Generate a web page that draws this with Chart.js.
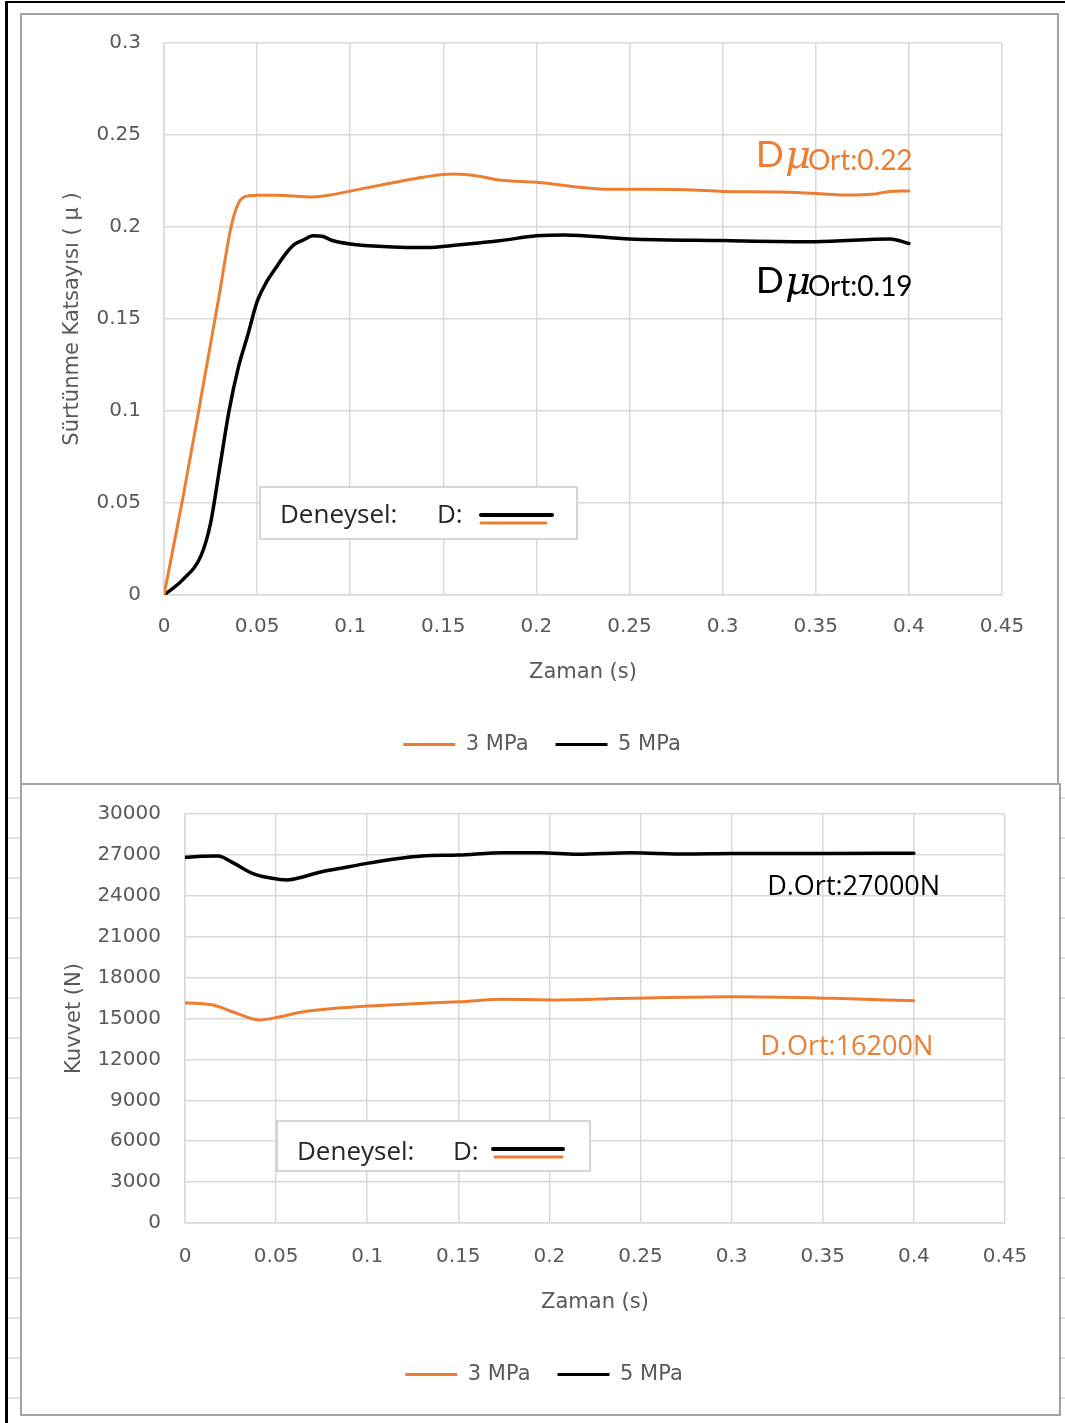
<!DOCTYPE html>
<html>
<head>
<meta charset="utf-8">
<title>Sürtünme Katsayısı ve Kuvvet – Zaman</title>
<script src="https://cdn.jsdelivr.net/npm/chart.js@4/dist/chart.umd.min.js"></script>
<style>
  html, body { margin: 0; padding: 0; background: #fff; }
  body { width: 1065px; height: 1423px; position: relative; overflow: hidden; }
  canvas { position: absolute; }
  #c1 { left: 21px; top: 14px; }
  #c2 { left: 21px; top: 784px; }
  .panel { position: absolute; box-sizing: border-box; border: 2px solid #a3a3a3; pointer-events: none; }
  #p1 { left: 20px; top: 13px; width: 1039px; height: 772px; }
  #p2 { left: 20px; top: 783px; width: 1041px; height: 633px; }
  #edgeTop { position: absolute; left: 5px; top: 1px; width: 1060px; height: 2px; background: #000; }
  #edgeLeft { position: absolute; left: 5px; top: 1px; width: 3px; height: 1422px; background: #000; }
  /* faint sheet rows visible around the lower panel */
  #rowsLeft { position: absolute; left: 8px; top: 786px; width: 12px; height: 637px;
    background: repeating-linear-gradient(to bottom, transparent 0 11px, #e3e3e3 11px 13px, transparent 13px 40px); }
  #rowsRight { position: absolute; left: 1061px; top: 786px; width: 4px; height: 637px;
    background: repeating-linear-gradient(to bottom, transparent 0 11px, #e3e3e3 11px 13px, transparent 13px 40px); }
</style>
</head>
<body>
<div id="edgeTop"></div>
<div id="edgeLeft"></div>
<div id="rowsLeft"></div>
<div id="rowsRight"></div>
<canvas id="c1" width="1037" height="770"></canvas>
<canvas id="c2" width="1038" height="630"></canvas>
<div class="panel" id="p1"></div>
<div class="panel" id="p2"></div>

<script>
// ---- series names ----
const seriesNames = ['3 MPa', '5 MPa'];

// ---- shared time axis ----
const timeTickValues = [0, 0.05, 0.1, 0.15, 0.2, 0.25, 0.3, 0.35, 0.4, 0.45];
const timeTickLabels = ['0', '0.05', '0.1', '0.15', '0.2', '0.25', '0.3', '0.35', '0.4', '0.45'];

// ---- friction coefficient (μ) ----
const muTickValues = [0, 0.05, 0.1, 0.15, 0.2, 0.25, 0.3];
const muTickLabels = ['0', '0.05', '0.1', '0.15', '0.2', '0.25', '0.3'];

const muTime3 = [0, 0.01, 0.02, 0.03, 0.036, 0.04, 0.046, 0.05, 0.06, 0.07, 0.08, 0.09, 0.1, 0.12, 0.14,
                 0.155, 0.17, 0.18, 0.2, 0.234, 0.25, 0.28, 0.3, 0.33, 0.35, 0.368, 0.38, 0.39, 0.4];
const mu3 = [0, 0.052, 0.108, 0.165, 0.2, 0.213, 0.217, 0.2172, 0.2172, 0.2168, 0.2163, 0.2175, 0.2195, 0.2235, 0.2272,
             0.2288, 0.2275, 0.2255, 0.2243, 0.2207, 0.2205, 0.2203, 0.2193, 0.219, 0.2182, 0.2174, 0.2178, 0.2193, 0.2196];

const muTime5 = [0, 0.01, 0.02, 0.025, 0.03, 0.035, 0.04, 0.045, 0.05, 0.055, 0.06, 0.065, 0.07, 0.075, 0.08,
                 0.085, 0.09, 0.1, 0.12, 0.14, 0.16, 0.18, 0.2, 0.215, 0.25, 0.3, 0.35, 0.39, 0.4];
const mu5 = [0, 0.0082, 0.0217, 0.039, 0.0697, 0.1005, 0.124, 0.1413, 0.1594, 0.17, 0.1777, 0.185, 0.1905, 0.193, 0.1953,
             0.195, 0.1928, 0.1908, 0.1893, 0.1888, 0.1905, 0.1925, 0.1952, 0.1957, 0.1935, 0.1926, 0.192, 0.1935, 0.191];

const muAverages = ['0.22', '0.19'];

// ---- force (N) ----
const forceTickValues = [0, 3000, 6000, 9000, 12000, 15000, 18000, 21000, 24000, 27000, 30000];
const forceTickLabels = ['0', '3000', '6000', '9000', '12000', '15000', '18000', '21000', '24000', '27000', '30000'];

const forceTime3 = [0, 0.0154, 0.0284, 0.041, 0.052, 0.065, 0.08, 0.1015, 0.125, 0.151, 0.1745, 0.202, 0.244, 0.3, 0.3556, 0.4];
const force3 = [16160, 15990, 15380, 14890, 15130, 15500, 15720, 15920, 16080, 16230, 16410, 16360, 16480, 16600, 16480, 16300];

const forceTime5 = [0, 0.01, 0.018, 0.027, 0.037, 0.047, 0.056, 0.065, 0.075, 0.09, 0.1, 0.115, 0.13, 0.15,
                    0.175, 0.195, 0.215, 0.245, 0.275, 0.3, 0.35, 0.4];
const force5 = [26820, 26900, 26920, 26380, 25650, 25300, 25160, 25400, 25770, 26130, 26380, 26700, 26920, 26990,
                27160, 27160, 27040, 27160, 27060, 27100, 27100, 27120];

const forceAverages = ['27000', '16200'];

// ---- key box words ----
const keyWords = ['Deneysel:', 'D:'];

// ---- colours ----
const ORANGE = '#ED7D31';
const BLACK = '#000000';
const GRID = '#d9d9d9';
const TEXT = '#595959';
const FONT = 'DejaVu Sans';

function points(xs, ys) { return xs.map((x, i) => ({ x, y: ys[i] })); }

// Text notes and the small "Deneysel" key box drawn on top of the plot
const notesPlugin = {
  id: 'seriesNotes',
  afterDatasetsDraw(chart, args, opts) {
    const { ctx, chartArea } = chart;
    const xs = chart.scales.x, ys = chart.scales.y;
    const ds = chart.data.datasets;
    ctx.save();

    // key box
    const k = opts.key;
    const bx = chartArea.left + k.box[0], by = chartArea.top + k.box[1];
    ctx.fillStyle = '#ffffff';
    ctx.fillRect(bx, by, k.box[2], k.box[3]);
    ctx.strokeStyle = '#c8c8c8';
    ctx.lineWidth = 1.5;
    ctx.strokeRect(bx, by, k.box[2], k.box[3]);
    ctx.fillStyle = '#262626';
    ctx.font = k.font;
    ctx.textBaseline = 'alphabetic';
    ctx.textAlign = 'left';
    ctx.fillText(keyWords[0], chartArea.left + k.textX[0], chartArea.top + k.baseline);
    ctx.fillText(keyWords[1], chartArea.left + k.textX[1], chartArea.top + k.baseline);
    k.swatches.forEach(sw => {
      ctx.strokeStyle = ds[sw.ds].borderColor;
      ctx.lineWidth = sw.w;
      ctx.lineCap = 'round';
      ctx.beginPath();
      ctx.moveTo(chartArea.left + sw.x0, chartArea.top + sw.y);
      ctx.lineTo(chartArea.left + sw.x1, chartArea.top + sw.y);
      ctx.stroke();
    });

    // average notes
    opts.notes.forEach(n => {
      const color = ds[n.ds].borderColor;
      const xr = xs.getPixelForValue(n.x);
      const yb = ys.getPixelForValue(n.y);
      ctx.fillStyle = color;
      ctx.textBaseline = 'alphabetic';
      ctx.textAlign = 'left';
      if (n.style === 'mu') {
        const sub = 'Ort:' + muAverages[n.idx];
        ctx.font = '28px Lato';
        const w1 = ctx.measureText(sub).width;
        ctx.font = 'italic 40px "DejaVu Serif"';
        const w2 = ctx.measureText('μ').width;
        ctx.font = '37px Lato';
        const w3 = ctx.measureText('D').width;
        ctx.font = '28px Lato';
        ctx.fillText(sub, xr - w1, yb);
        ctx.font = 'italic 40px "DejaVu Serif"';
        ctx.fillText('μ', xr - w1 - w2 + 3, yb - 2);
        ctx.font = '37px Lato';
        ctx.fillText('D', xr - w1 - w2 - w3 + 2, yb - 3);
      } else {
        const txt = 'D.Ort:' + forceAverages[n.idx] + 'N';
        ctx.font = '27px "Open Sans"';
        ctx.textAlign = 'right';
        ctx.textBaseline = 'middle';
        ctx.fillText(txt, xr, yb);
      }
    });
    ctx.restore();
  }
};

function makeOptions(cfg) {
  const tickFont = { family: FONT, size: 20 };
  const titleFont = { family: FONT, size: 21 };
  return {
    responsive: false,
    animation: false,
    devicePixelRatio: 1,
    events: [],
    layout: { padding: { left: cfg.padL, right: cfg.padR, top: cfg.padT, bottom: cfg.padB } },
    elements: {
      point: { radius: 0 },
      line: { cubicInterpolationMode: 'monotone', borderCapStyle: 'round', borderJoinStyle: 'round' }
    },
    plugins: {
      legend: {
        position: 'bottom',
        labels: {
          boxWidth: 52,
          boxHeight: 3,
          padding: 27,
          color: TEXT,
          font: { family: FONT, size: 21 },
          generateLabels: chart => Chart.defaults.plugins.legend.labels.generateLabels(chart)
            .map(l => Object.assign(l, { lineWidth: 0 }))
        }
      },
      tooltip: { enabled: false },
      seriesNotes: cfg.notes
    },
    scales: {
      x: {
        type: 'linear',
        min: 0,
        max: 0.45,
        afterBuildTicks: s => { s.ticks = timeTickValues.map(v => ({ value: v })); },
        afterFit: s => { s.height = cfg.xH; s.paddingLeft = 0; s.paddingRight = 0; },
        grid: { color: GRID, lineWidth: 1.5, drawTicks: false },
        border: { color: GRID, width: 1.5 },
        ticks: {
          padding: cfg.xTickPad,
          color: TEXT,
          font: tickFont,
          maxRotation: 0,
          autoSkip: false,
          callback: (v, i) => timeTickLabels[i]
        },
        title: { display: true, text: 'Zaman (s)', color: TEXT, font: titleFont, padding: { top: 0, bottom: cfg.xTitlePad } }
      },
      y: {
        type: 'linear',
        min: cfg.yTicks[0],
        max: cfg.yTicks[cfg.yTicks.length - 1],
        afterBuildTicks: s => { s.ticks = cfg.yTicks.map(v => ({ value: v })); },
        afterFit: s => { s.width = cfg.yW; s.paddingTop = 0; s.paddingBottom = 0; },
        grid: { color: GRID, lineWidth: 1.5, drawTicks: false },
        border: { color: GRID, width: 1.5 },
        ticks: {
          padding: cfg.yTickPad,
          color: TEXT,
          font: tickFont,
          autoSkip: false,
          callback: (v, i) => cfg.yLabels[i]
        },
        title: { display: true, text: cfg.yTitle, color: TEXT, font: titleFont, padding: { top: cfg.yTitleShift, bottom: 0 } }
      }
    }
  };
}

function dataset(label, color, width, pts) {
  return {
    label,
    data: pts,
    borderColor: color,
    backgroundColor: color,
    borderWidth: width,
    fill: false,
    pointRadius: 0
  };
}

// Friction coefficient vs time
new Chart(document.getElementById('c1'), {
  type: 'line',
  data: {
    datasets: [
      dataset(seriesNames[0], ORANGE, 3, points(muTime3, mu3)),
      dataset(seriesNames[1], BLACK, 3.5, points(muTime5, mu5))
    ]
  },
  options: makeOptions({
    padL: 61, padR: 56, padT: 29, padB: 19,
    yW: 82, yTitleShift: -22, xH: 112, xTickPad: 20, yTickPad: 23, xTitlePad: 22,
    yTicks: muTickValues, yLabels: muTickLabels,
    yTitle: 'Sürtünme Katsayısı ( μ )',
    notes: {
      key: {
        box: [96, 444, 317, 52],
        font: '26px "Open Sans"',
        textX: [116, 273],
        baseline: 480,
        swatches: [
          { ds: 1, x0: 317, x1: 388, y: 472, w: 4 },
          { ds: 0, x0: 317, x1: 382, y: 480, w: 3 }
        ]
      },
      notes: [
        { ds: 0, idx: 0, style: 'mu', x: 0.402, y: 0.231 },
        { ds: 1, idx: 1, style: 'mu', x: 0.402, y: 0.1625 }
      ]
    }
  }),
  plugins: [notesPlugin]
});

// Force vs time
new Chart(document.getElementById('c2'), {
  type: 'line',
  data: {
    datasets: [
      dataset(seriesNames[0], ORANGE, 3, points(forceTime3, force3)),
      dataset(seriesNames[1], BLACK, 3.5, points(forceTime5, force5))
    ]
  },
  options: makeOptions({
    padL: 62, padR: 54, padT: 30, padB: 19,
    yW: 102, yTitleShift: -21, xH: 114, xTickPad: 22, yTickPad: 24, xTitlePad: 22,
    yTicks: forceTickValues, yLabels: forceTickLabels,
    yTitle: 'Kuvvet (N)',
    notes: {
      key: {
        box: [92, 307, 313, 50],
        font: '26px "Open Sans"',
        textX: [112, 268],
        baseline: 346,
        swatches: [
          { ds: 1, x0: 308, x1: 378, y: 335, w: 4 },
          { ds: 0, x0: 310, x1: 377, y: 343, w: 3 }
        ]
      },
      notes: [
        { ds: 1, idx: 0, style: 'force', x: 0.4144, y: 24645 },
        { ds: 0, idx: 1, style: 'force', x: 0.4106, y: 12910 }
      ]
    }
  }),
  plugins: [notesPlugin]
});
</script>
</body>
</html>
